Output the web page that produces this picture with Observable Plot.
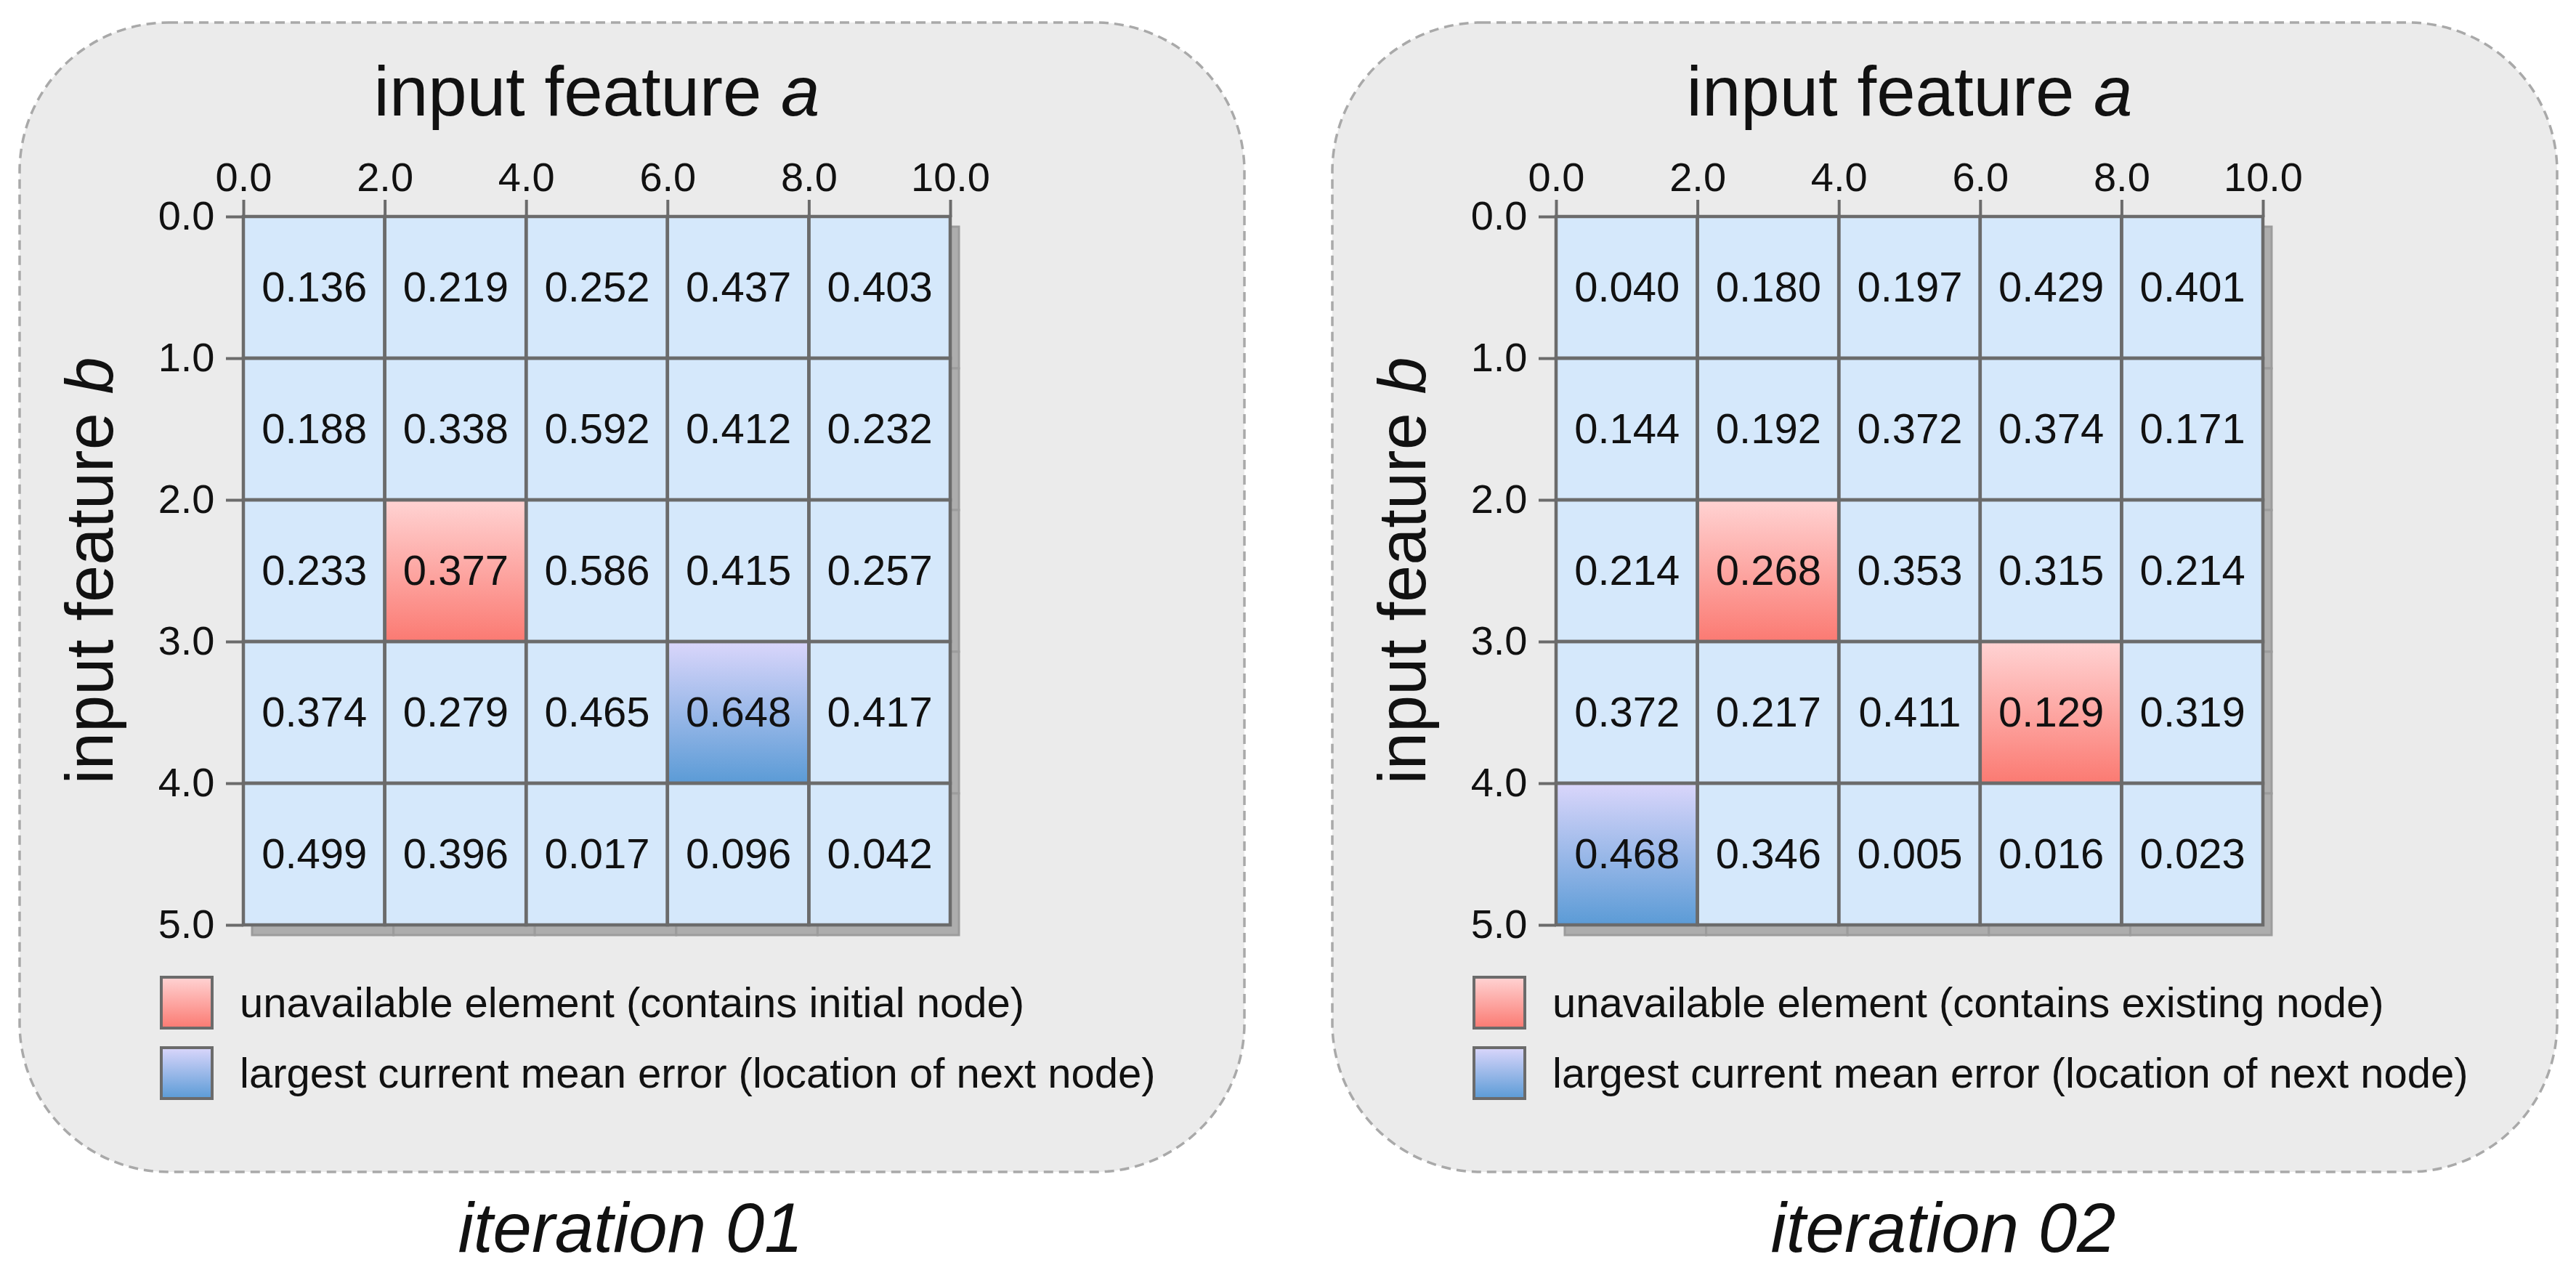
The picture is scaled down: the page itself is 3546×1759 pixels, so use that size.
<!DOCTYPE html>
<html><head><meta charset="utf-8">
<script src="https://cdn.jsdelivr.net/npm/d3@7"></script>
<script src="https://cdn.jsdelivr.net/npm/@observablehq/plot@0.6"></script>
<style>
html,body{margin:0;padding:0;background:#fff;}
#fig{position:relative;width:3546px;height:1759px;overflow:hidden;font-family:"Liberation Sans",Arial,sans-serif;}
#fig > svg{position:absolute;top:0;}
</style></head><body><div id="fig"></div>
<script>
// ---- data ----
const xTicks = [0, 2, 4, 6, 8, 10];
const yTicks = [0, 1, 2, 3, 4, 5];
const iter01Values = [
  [0.136, 0.219, 0.252, 0.437, 0.403],
  [0.188, 0.338, 0.592, 0.412, 0.232],
  [0.233, 0.377, 0.586, 0.415, 0.257],
  [0.374, 0.279, 0.465, 0.648, 0.417],
  [0.499, 0.396, 0.017, 0.096, 0.042]
];
const iter02Values = [
  [0.040, 0.180, 0.197, 0.429, 0.401],
  [0.144, 0.192, 0.372, 0.374, 0.171],
  [0.214, 0.268, 0.353, 0.315, 0.214],
  [0.372, 0.217, 0.411, 0.129, 0.319],
  [0.468, 0.346, 0.005, 0.016, 0.023]
];
// [column, row]
const iter01Unavailable = [[1, 2]];
const iter01Next = [[3, 3]];
const iter02Unavailable = [[1, 2], [3, 3]];
const iter02Next = [[0, 4]];
const legend01 = ["unavailable element (contains initial node)", "largest current mean error (location of next node)"];
const legend02 = ["unavailable element (contains existing node)", "largest current mean error (location of next node)"];
const captions = ["iteration 01", "iteration 02"];

// ---- layout ----
const fig = d3.select("#fig");
const FONT = '"Liberation Sans", Arial, sans-serif';
const PANEL_DX = 1807;
const W = 1760, H = 1330;
const GL = 335, GR = 1308, GT = 298, GB = 1273;

// defs + backgrounds
const bg = fig.append("svg").attr("width", 3546).attr("height", 1759).style("left", "0px");
const defs = bg.append("defs");
function grad(id, top, bottom) {
  const g = defs.append("linearGradient").attr("id", id).attr("x1", 0).attr("y1", 0).attr("x2", 0).attr("y2", 1);
  g.append("stop").attr("offset", "0%").attr("stop-color", top);
  g.append("stop").attr("offset", "100%").attr("stop-color", bottom);
}
grad("gRed", "#ffd3d3", "#fb7a72");
grad("gBlue", "#dad6fb", "#5b9bd6");
[0, 1].forEach(i => {
  bg.append("rect").attr("x", 27 + i * PANEL_DX).attr("y", 31).attr("width", 1686).attr("height", 1582)
    .attr("rx", 205).attr("ry", 205).attr("fill", "#ebebeb").attr("stroke", "#a9a9a9")
    .attr("stroke-width", 3.5).attr("stroke-dasharray", "13 8");
});

function buildCells(values, unavail, next) {
  const cells = [];
  values.forEach((row, r) => row.forEach((v, c) => {
    let state = "normal";
    if (unavail.some(([cc, rr]) => cc === c && rr === r)) state = "unavailable";
    if (next.some(([cc, rr]) => cc === c && rr === r)) state = "next";
    cells.push({a1: xTicks[c], a2: xTicks[c + 1], b1: yTicks[r], b2: yTicks[r + 1], value: v, state});
  }));
  return cells;
}

function panel(values, unavail, next, i) {
  const cells = buildCells(values, unavail, next);
  const pos = {x1: "a1", x2: "a2", y1: "b1", y2: "b2"};
  const svg = Plot.plot({
    width: W, height: H,
    marginLeft: GL, marginRight: W - GR, marginTop: GT, marginBottom: H - GB,
    x: {domain: [0, 10]},
    y: {domain: [0, 5], reverse: true},
    style: {fontFamily: FONT, fontSize: "56px", background: "transparent", overflow: "visible", maxWidth: "none"},
    marks: [
      Plot.rect(cells, {...pos, fill: "#adadad", stroke: "#9c9c9c", strokeWidth: 3, dx: 12, dy: 14}),
      Plot.rect(cells, {...pos, filter: d => d.state === "normal", fill: "#d5e8fb"}),
      Plot.rect(cells, {...pos, filter: d => d.state === "unavailable", fill: "url(#gRed)"}),
      Plot.rect(cells, {...pos, filter: d => d.state === "next", fill: "url(#gBlue)"}),
      Plot.rect(cells, {...pos, fill: "none", stroke: "#6b6b6b", strokeWidth: 4.5}),
      Plot.axisX({anchor: "top", ticks: xTicks, tickSize: 24, tickPadding: 12, tickFormat: d => d.toFixed(1),
        stroke: "#6b6b6b", strokeWidth: 4, fill: "#111", fontSize: 56, label: null}),
      Plot.axisY({anchor: "left", ticks: yTicks, tickSize: 24, tickPadding: 16, tickFormat: d => d.toFixed(1),
        stroke: "#6b6b6b", strokeWidth: 4, fill: "#111", fontSize: 56, label: null}),
      Plot.text(cells, {x: d => (d.a1 + d.a2) / 2, y: d => (d.b1 + d.b2) / 2, text: d => d.value.toFixed(3),
        fontSize: 58, fill: "#111"})
    ]
  });
  svg.style.position = "absolute";
  svg.style.left = (i * PANEL_DX) + "px";
  svg.style.top = "0px";
  document.getElementById("fig").appendChild(svg);
}
panel(iter01Values, iter01Unavailable, iter01Next, 0);
panel(iter02Values, iter02Unavailable, iter02Next, 1);

// foreground texts & legend
const fg = fig.append("svg").attr("width", 3546).attr("height", 1759).style("left", "0px")
  .style("font-family", FONT);
[legend01, legend02].forEach((labels, i) => {
  const ox = i * PANEL_DX;
  // title
  const t = fg.append("text").attr("x", (GL + GR) / 2 + ox).attr("y", 159).attr("text-anchor", "middle")
    .attr("font-size", 96).attr("fill", "#111");
  t.append("tspan").text("input feature ");
  t.append("tspan").attr("font-style", "italic").text("a");
  // y label
  const yl = fg.append("text").attr("transform", `translate(${155 + ox},${(GT + GB) / 2}) rotate(-90)`)
    .attr("text-anchor", "middle").attr("font-size", 92).attr("fill", "#111");
  yl.append("tspan").text("input feature ");
  yl.append("tspan").attr("font-style", "italic").text("b");
  // legend
  ["url(#gRed)", "url(#gBlue)"].forEach((f, k) => {
    const y0 = 1345 + k * 97;
    fg.append("rect").attr("x", 222 + ox).attr("y", y0).attr("width", 70).attr("height", 70)
      .attr("fill", f).attr("stroke", "#6b6b6b").attr("stroke-width", 4);
    fg.append("text").attr("x", 330 + ox).attr("y", y0 + 35 + 20).attr("font-size", 58).attr("fill", "#111")
      .text(labels[k]);
  });
  // caption
  fg.append("text").attr("x", 868 + ox).attr("y", 1723).attr("text-anchor", "middle")
    .attr("font-size", 96).attr("font-style", "italic").attr("fill", "#111").text(captions[i]);
});
</script></body></html>
